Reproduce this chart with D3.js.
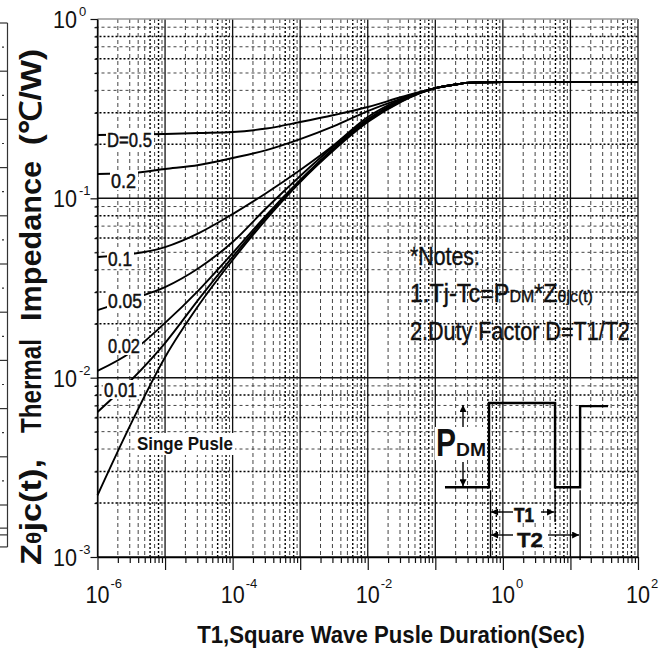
<!DOCTYPE html>
<html>
<head>
<meta charset="utf-8">
<script src="https://cdn.jsdelivr.net/npm/d3@7"></script>
<style>
body { margin: 0; background: #fff; }
svg { display: block; }
text { font-family: "Liberation Sans Narrow", "Arial Narrow", "Liberation Sans", Arial, sans-serif; fill: #111; }
</style>
</head>
<body>
<div id="chart"></div>
<script>
// pulse duration columns (sec), shared by all duty curves
var tSec = [1e-6, 3.16e-6, 1e-5, 3.16e-5, 1e-4, 3.16e-4, 1e-3, 3.16e-3, 1e-2, 3.16e-2];

// Zthjc (C/W) for each duty factor
var zD05 = [0.2254, 0.2269, 0.2284, 0.2313, 0.2343, 0.2450, 0.2663, 0.2914, 0.3229, 0.3672];
var zD02 = [0.1367, 0.1384, 0.1457, 0.1534, 0.1678, 0.1859, 0.2141, 0.2530, 0.3068, 0.3601];
var zD01 = [0.0471, 0.0489, 0.0535, 0.0640, 0.0817, 0.1071, 0.1438, 0.1983, 0.2840, 0.3578];
var zD005 = [0.0238, 0.0274, 0.0320, 0.0409, 0.0571, 0.0883, 0.1332, 0.1957, 0.2768, 0.3532];
var zD002 = [0.0109, 0.0139, 0.0202, 0.0308, 0.0495, 0.0807, 0.1265, 0.1908, 0.2733, 0.3510];
var zD001 = [0.00643, 0.0097, 0.0156, 0.0274, 0.0471, 0.0787, 0.1249, 0.1883, 0.2698, 0.3487];
var zSingle = [0.00221, 0.00558, 0.0130, 0.0254, 0.0453, 0.0766, 0.1233, 0.1859, 0.2663, 0.3465];

// common tail where every curve merges into the steady state value
var tailT = [0.1, 0.2, 0.32, 1, 100];
var tailZ = [0.412, 0.431, 0.442, 0.445, 0.445];

var curveLabels = ["D=0.5", "0.2", "0.1", "0.05", "0.02", "0.01"];

// tick labels
var xTickExp = ["-6", "-4", "-2", "0", "2"];
var yTickExp = ["-3", "-2", "-1", "0"];

// square wave sketch (t in sec, Z in C/W)
var pulseT = [0.139, 0.624, 0.624, 5.92, 5.92, 13.9, 13.9, 36.0];
var pulseZ = [0.00245, 0.00245, 0.00722, 0.00722, 0.00245, 0.00245, 0.00694, 0.00694];

var W = 662, H = 655;
var svg = d3.select("#chart").append("svg").attr("width", W).attr("height", H);

var x = d3.scaleLog().domain([1e-6, 1e2]).range([97.5, 638]);
var y = d3.scaleLog().domain([1e-3, 1]).range([557, 19]);

// squeeze a text horizontally to a given width (the scan uses a narrow face)
function fitText(parent, px, py, w, build, rot) {
    var t = parent.append("text");
    build(t);
    var len = t.node().getComputedTextLength();
    t.attr("transform", "translate(" + px + "," + py + ")" + (rot ? " rotate(-90)" : "") + " scale(" + (w / len) + ",1)");
    return t;
}

var decX = [1e-6, 1e-5, 1e-4, 1e-3, 1e-2, 1e-1, 1, 10, 100];
var decY = [1e-3, 1e-2, 1e-1, 1];
var minorX = [], minorY = [];
decX.slice(0, -1).forEach(function(d) { for (var m = 2; m <= 9; m++) minorX.push({ v: d * m, m: m }); });
decY.slice(0, -1).forEach(function(d) { for (var m = 2; m <= 9; m++) minorY.push({ v: d * m, m: m }); });
var heavyX = [6, 8], heavyY = [2, 3, 6, 8];

// left edge: fragment of the neighbouring chart
var frag = d3.scaleLinear().domain([0, 10]).range([23, 505]);
var fragG = svg.append("g").attr("stroke", "#333").attr("stroke-width", 1.2);
fragG.append("line").attr("x1", 7.5).attr("x2", 7.5).attr("y1", 23).attr("y2", 547);
fragG.selectAll(".ft").data(d3.range(0, 11).concat([10.48, 10.62, 10.87])).enter().append("line")
    .attr("x1", 0).attr("x2", 7.5).attr("y1", d => frag(d)).attr("y2", d => frag(d));
fragG.selectAll(".fd").data(d3.range(0, 10)).enter().append("line")
    .attr("x1", 2).attr("x2", 4).attr("y1", d => frag(d + 0.5)).attr("y2", d => frag(d + 0.5));

// grid
var grid = svg.append("g");
grid.selectAll(".vm").data(minorX).enter().append("line")
    .attr("x1", d => x(d.v)).attr("x2", d => x(d.v))
    .attr("y1", y(1)).attr("y2", y(1e-3))
    .attr("stroke", d => heavyX.includes(d.m) ? "#000" : "#444")
    .attr("stroke-width", d => heavyX.includes(d.m) ? 1.4 : 1)
    .attr("stroke-dasharray", d => heavyX.includes(d.m) ? "2,2" : "4,3");
grid.selectAll(".hm").data(minorY).enter().append("line")
    .attr("y1", d => y(d.v)).attr("y2", d => y(d.v))
    .attr("x1", x(1e-6) - 2).attr("x2", x(1e2))
    .attr("stroke", d => heavyY.includes(d.m) ? "#000" : "#444")
    .attr("stroke-width", d => heavyY.includes(d.m) ? 1.5 : 1)
    .attr("stroke-dasharray", d => heavyY.includes(d.m) ? "2,2" : "3,3");
grid.selectAll(".vM").data(decX).enter().append("line")
    .attr("x1", d => x(d)).attr("x2", d => x(d))
    .attr("y1", y(1)).attr("y2", y(1e-3))
    .attr("stroke", "#111").attr("stroke-width", 1.3);
grid.selectAll(".hM").data(decY).enter().append("line")
    .attr("y1", d => y(d)).attr("y2", d => y(d))
    .attr("x1", x(1e-6)).attr("x2", x(1e2))
    .attr("stroke", d => d === 1 ? "#999" : "#111").attr("stroke-width", 1.5);

// axes (ticks only, labels drawn by hand for the superscripts)
var xAxisG = svg.append("g").attr("transform", "translate(0," + y(1e-3) + ")");
xAxisG.call(d3.axisBottom(x).tickValues(decX).tickSize(13).tickSizeOuter(0).tickFormat(""));
xAxisG.append("g").call(d3.axisBottom(x).tickValues(minorX.map(d => d.v)).tickSize(6).tickFormat(""))
    .select(".domain").remove();
xAxisG.select(".domain").attr("stroke-width", 1.6);

var yAxisG = svg.append("g").attr("transform", "translate(" + x(1e-6) + ",0)");
yAxisG.call(d3.axisLeft(y).tickValues(decY).tickSize(7).tickSizeOuter(0).tickFormat(""));
yAxisG.append("g").call(d3.axisLeft(y).tickValues(minorY.map(d => d.v)).tickSize(3).tickFormat(""))
    .select(".domain").remove();
svg.selectAll(".tick line").attr("stroke", "#111").attr("stroke-width", 1.2);
svg.selectAll(".tick text").remove();

// x tick labels
decX.filter((d, i) => i % 2 === 0).forEach(function(d, i) {
    fitText(svg, x(d), 603, 24, t => t.attr("text-anchor", "middle").attr("font-size", 24).text("10"));
    svg.append("text").attr("x", x(d) + 13).attr("y", 588).attr("font-size", 13).text(xTickExp[i]);
});
// y tick labels
decY.forEach(function(d, i) {
    fitText(svg, 77, y(d) + 9, 24, t => t.attr("text-anchor", "end").attr("font-size", 24).text("10"));
    svg.append("text").attr("x", 79).attr("y", y(d) - 3).attr("font-size", 13).text(yTickExp[i]);
});

// curves
var line = d3.line().x(d => x(d[0])).y(d => y(d[1])).curve(d3.curveMonotoneX);
var series = [zD05, zD02, zD01, zD005, zD002, zD001, zSingle];
series.forEach(function(z) {
    var pts = tSec.map((t, i) => [t, z[i]]).concat(tailT.map((t, i) => [t, tailZ[i]]));
    svg.append("path").attr("d", line(pts))
        .attr("fill", "none").attr("stroke", "#000").attr("stroke-width", 1.9);
});

// curve labels on white boxes
var labelPos = [
    { x: 107, y: 147, w: 45 },
    { x: 111, y: 188, w: 25 },
    { x: 108, y: 266, w: 24 },
    { x: 108, y: 308, w: 34 },
    { x: 108, y: 353, w: 32 },
    { x: 104, y: 397, w: 33 }
];
curveLabels.forEach(function(txt, i) {
    var p = labelPos[i];
    svg.append("rect").attr("x", p.x - 1).attr("y", p.y - 17).attr("width", p.w + 3).attr("height", 19).attr("fill", "#fff");
    fitText(svg, p.x, p.y, p.w, t => t.attr("font-size", 20).attr("stroke", "#111").attr("stroke-width", 0.5).text(txt));
});

svg.append("rect").attr("x", 135).attr("y", 433).attr("width", 100).attr("height", 22).attr("fill", "#fff");
fitText(svg, 137, 450, 96, t => t.attr("font-size", 19).attr("font-weight", "bold").text("Singe Pusle"));

// notes
var notes = svg.append("g").attr("font-size", 25).attr("stroke", "#111").attr("stroke-width", 0.4);
fitText(notes, 410, 265, 70, t => t.text("*Notes:"));
fitText(notes, 410, 302, 183, function(t) {
    t.append("tspan").text("1.Tj-Tc=P");
    t.append("tspan").attr("font-size", 17).text("DM");
    t.append("tspan").text("*Z");
    t.append("tspan").attr("font-size", 17).text("θjc(t)");
});
fitText(notes, 410, 340, 220, t => t.text("2.Duty Factor D=T1/T2"));

// square wave sketch
var defs = svg.append("defs");
defs.append("marker").attr("id", "ah").attr("viewBox", "0 0 10 10").attr("refX", 10).attr("refY", 5)
    .attr("markerWidth", 9).attr("markerHeight", 7).attr("markerUnits", "userSpaceOnUse").attr("orient", "auto")
    .append("path").attr("d", "M0,0L10,5L0,10Z").attr("fill", "#000");

var pulse = d3.line().x(d => x(d[0])).y(d => y(d[1]));
svg.append("path").attr("d", pulse(pulseT.map((t, i) => [t, pulseZ[i]])))
    .attr("fill", "none").attr("stroke", "#000").attr("stroke-width", 2.4);

var xRise = x(pulseT[1]), xFall = x(pulseT[3]), xRise2 = x(pulseT[5]);
var yHigh = y(pulseZ[2]), yLow = y(pulseZ[0]);
var sk = svg.append("g").attr("stroke", "#000").attr("stroke-width", 1.4);
sk.append("line").attr("x1", xRise + 1.5).attr("x2", xRise + 1.5).attr("y1", yLow + 3).attr("y2", 557);
sk.append("line").attr("x1", xFall).attr("x2", xFall).attr("y1", yLow + 3).attr("y2", 522);
sk.append("line").attr("x1", xRise2).attr("x2", xRise2).attr("y1", yLow + 3).attr("y2", 560);

// PDM arrow and label
var xP = 463;
sk.append("line").attr("x1", xP).attr("x2", xP).attr("y1", 428).attr("y2", yHigh + 2).attr("marker-end", "url(#ah)");
sk.append("line").attr("x1", xP).attr("x2", xP).attr("y1", 462).attr("y2", yLow - 1).attr("marker-end", "url(#ah)");
svg.append("rect").attr("x", 435).attr("y", 427).attr("width", 52).attr("height", 33).attr("fill", "#fff");
fitText(svg, 436, 456, 20, t => t.attr("font-size", 38).attr("font-weight", "bold").text("P"));
fitText(svg, 456, 456, 30, t => t.attr("font-size", 18).attr("font-weight", "bold").text("DM"));

// T1 / T2 dimension arrows
var yT1 = 512, yT2 = 535;
sk.append("line").attr("x1", 513).attr("x2", xRise + 2).attr("y1", yT1).attr("y2", yT1).attr("marker-end", "url(#ah)");
sk.append("line").attr("x1", 541).attr("x2", xFall - 1).attr("y1", yT1).attr("y2", yT1).attr("marker-end", "url(#ah)");
sk.append("line").attr("x1", 513).attr("x2", xRise + 2).attr("y1", yT2).attr("y2", yT2).attr("marker-end", "url(#ah)");
sk.append("line").attr("x1", 548).attr("x2", xRise2 - 1).attr("y1", yT2).attr("y2", yT2).attr("marker-end", "url(#ah)");
svg.append("rect").attr("x", 513).attr("y", 504).attr("width", 24).attr("height", 19).attr("fill", "#fff");
fitText(svg, 524, 522, 20, t => t.attr("text-anchor", "middle").attr("font-size", 21).attr("font-weight", "bold")
    .attr("stroke", "#111").attr("stroke-width", 0.6).text("T1"));
svg.append("rect").attr("x", 515).attr("y", 529).attr("width", 30).attr("height", 18).attr("fill", "#fff");
fitText(svg, 530, 547, 26, t => t.attr("text-anchor", "middle").attr("font-size", 21).attr("font-weight", "bold")
    .attr("stroke", "#111").attr("stroke-width", 0.4).text("T2"));

// axis titles
fitText(svg, 391, 643, 388, t => t.attr("text-anchor", "middle").attr("font-size", 23).attr("font-weight", "bold")
    .text("T1,Square Wave Pusle Duration(Sec)"));

var yTitleWords = [
    { text: "(℃/W)", c: 97, w: 96 },
    { text: "Impedance", c: 241, w: 160 },
    { text: "Thermal", c: 386, w: 94 },
    { text: "Zθjc(t),", c: 512, w: 106 }
];
yTitleWords.forEach(function(wd) {
    fitText(svg, 41, wd.c, wd.w, function(t) {
        t.attr("text-anchor", "middle").attr("font-size", 30).attr("font-weight", "bold");
        if (wd.text.charAt(1) === "θ") {
            t.append("tspan").text("Z");
            t.append("tspan").attr("font-size", 20).text("θ");
            t.append("tspan").text("jc(t),");
        } else {
            t.text(wd.text);
        }
    }, true);
});
</script>
</body>
</html>
